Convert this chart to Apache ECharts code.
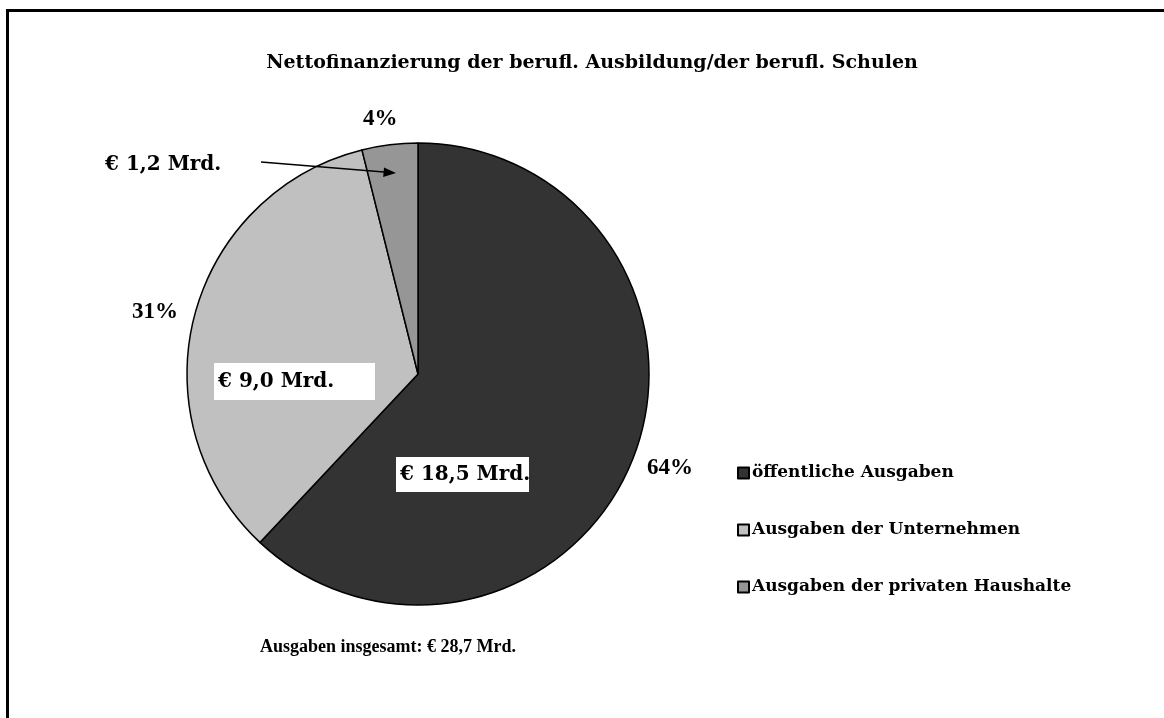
<!DOCTYPE html>
<html>
<head>
<meta charset="utf-8">
<script src="https://cdn.jsdelivr.net/npm/echarts@6/dist/echarts.min.js"></script>
<style>
html,body{margin:0;padding:0;background:#fff;}
#chart{width:1164px;height:718px;}
</style>
</head>
<body>
<div id="chart"></div>
<script>
// ---- data ----
var titleText = 'Nettofinanzierung der berufl. Ausbildung/der berufl. Schulen';
var categories = ['öffentliche Ausgaben', 'Ausgaben der Unternehmen', 'Ausgaben der privaten Haushalte'];
// sector sizes as drawn in the picture (share of the full circle, %)
var sliceShares = [62.0, 34.1, 3.9];
var percentLabels = ['64%', '31%', '4%'];
var amountLabels = ['€ 18,5 Mrd.', '€ 9,0 Mrd.', '€ 1,2 Mrd.'];
var totalLabel = 'Ausgaben insgesamt: € 28,7 Mrd.';
var sliceColors = ['#333333', '#c0c0c0', '#969696'];

var FONT = '"Liberation Serif"';
var WIDE = '"DejaVu Serif"';

var chart = echarts.init(document.getElementById('chart'), null, {renderer: 'canvas'});

var pieData = categories.map(function (c, i) {
  return {name: c, value: sliceShares[i], itemStyle: {color: sliceColors[i]}};
});

function txt(x, y, s, size, fam) {
  return {
    type: 'text', x: x, y: y, z: 20,
    style: {
      text: s, font: 'bold ' + size + 'px ' + (fam || FONT), fill: '#000',
      align: 'left', verticalAlign: 'middle'
    }
  };
}

var option = {
  backgroundColor: '#ffffff',
  animation: false,
  title: {
    text: titleText,
    left: 587, top: 49, textAlign: 'center',
    textStyle: {fontFamily: 'DejaVu Serif', fontWeight: 'bold', fontSize: 19, color: '#000'}
  },
  legend: {
    orient: 'vertical',
    left: 732, top: 458,
    itemWidth: 11, itemHeight: 11, itemGap: 37,
    icon: 'rect',
    data: categories,
    textStyle: {fontFamily: 'DejaVu Serif', fontWeight: 'bold', fontSize: 17, color: '#000', lineHeight: 20, padding: [0, 0, 0, -2]}
  },
  series: [{
    type: 'pie',
    center: [418, 374],
    radius: [0, 231],
    startAngle: 90,
    clockwise: true,
    label: {show: false},
    labelLine: {show: false},
    emphasis: {disabled: true},
    itemStyle: {borderColor: '#000', borderWidth: 1.5},
    data: pieData
  }],
  graphic: [
    {type: 'rect', shape: {x: 7.5, y: 10.5, width: 1300, height: 900}, style: {fill: 'none', stroke: '#000', lineWidth: 3}, z: 30},
    // white boxes for amount labels
    {type: 'rect', shape: {x: 396, y: 457, width: 133, height: 35}, style: {fill: '#fff'}, z: 15},
    {type: 'rect', shape: {x: 214, y: 363, width: 161, height: 37}, style: {fill: '#fff'}, z: 15},
    txt(400, 475, amountLabels[0], 20, WIDE),
    txt(218, 382, amountLabels[1], 20, WIDE),
    txt(105, 165, amountLabels[2], 20, WIDE),
    txt(647, 468, percentLabels[0], 23),
    txt(132, 312, percentLabels[1], 23),
    txt(363, 119, percentLabels[2], 23),
    txt(260, 647, totalLabel, 18),
    // arrow
    {type: 'line', shape: {x1: 261, y1: 162, x2: 384, y2: 172}, style: {stroke: '#000', lineWidth: 1.5}, z: 25},
    {type: 'polygon', shape: {points: [[396, 173], [384, 167.5], [383.2, 177]]}, style: {fill: '#000'}, z: 25}
  ]
};
chart.setOption(option);
</script>
</body>
</html>
